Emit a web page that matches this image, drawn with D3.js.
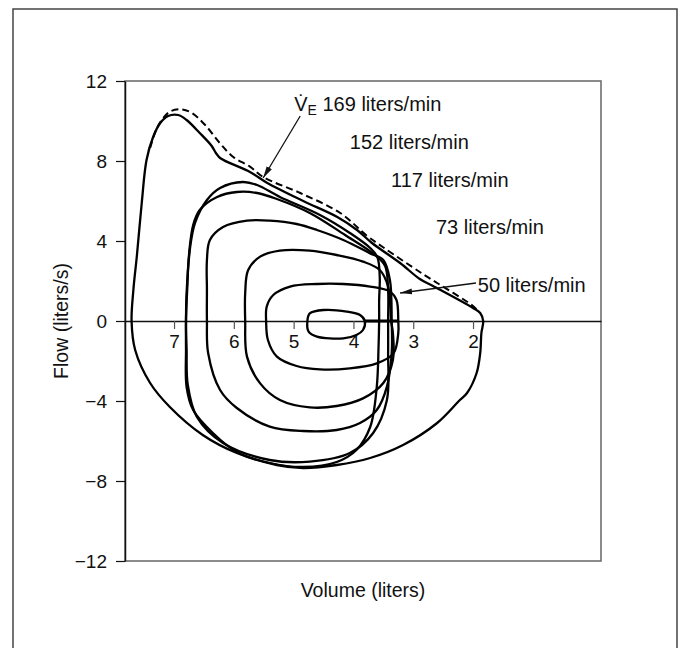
<html>
<head>
    <meta charset="utf-8">
    <title></title>
    <style>
        body { margin: 0; background: #fff; }
        text { font-family: "Liberation Sans", Arial, sans-serif; fill: #111; }
    </style>
</head>
<body>
<script src="https://cdnjs.cloudflare.com/ajax/libs/d3/7.8.5/d3.min.js"></script>
<script>
// flow-volume loops, [volume (liters), flow (liters/s)]
var loopMax = [[7.71,0],[7.68,1.55],[7.62,3.3],[7.54,5.9],[7.46,8.05],[7.35,9.2],[7.23,9.9],[7.1,10.25],
    [6.93,10.3],[6.79,10.05],[6.57,9.4],[6.37,8.75],[6.3,8.4],[6.23,8.15],[5.73,7.45],[5.44,6.9],[4.84,6.0],
    [4.27,5.2],[3.94,4.55],[3.69,3.9],[3.22,2.9],[2.89,2.1],[2.67,1.75],[2.0,0.65],[1.88,0.4],[1.83,0],
    [1.86,-0.6],[1.88,-1.6],[1.94,-2.6],[2.1,-3.6],[2.22,-3.95],[2.6,-5.1],[3.17,-6.2],[3.72,-6.85],
    [4.28,-7.2],[4.84,-7.35],[5.28,-7.2],[5.95,-6.6],[6.52,-5.7],[7.07,-4.3],[7.4,-3.1],[7.65,-1.45]];
var loop169 = [[6.8,0],[6.79,1.4],[6.73,3.7],[6.65,4.9],[6.45,6.05],[6.23,6.65],[5.85,6.95],[5.61,6.8],
    [5.23,6.2],[4.56,5.3],[4.06,4.4],[3.72,3.65],[3.6,3.2],[3.56,2.2],[3.57,1.05],[3.57,0],
    [3.58,-1.3],[3.61,-3.3],[3.72,-5.3],[3.95,-6.45],[4.28,-7.05],[4.84,-7.3],[5.4,-7.1],[5.95,-6.55],
    [6.35,-5.6],[6.68,-4.45],[6.79,-3.3],[6.8,-1.45]];
var loop152 = [[6.8,0],[6.78,1.55],[6.75,3.3],[6.68,4.8],[6.57,5.55],[6.28,6.2],[5.95,6.45],[5.61,6.4],
    [5.28,6.1],[4.73,5.4],[4.14,4.3],[3.64,3.3],[3.47,2.75],[3.42,1.55],[3.42,0],
    [3.42,-1.6],[3.44,-3.95],[3.67,-5.6],[4.06,-6.6],[4.73,-7.03],[5.4,-6.95],[6.18,-6.1],[6.62,-4.78],
    [6.77,-3.2],[6.79,-1.45]];
var loop117 = [[6.45,0],[6.45,1.55],[6.45,3.05],[6.4,4.05],[6.18,4.7],[5.78,5.02],[5.4,5.02],[4.95,4.85],
    [4.61,4.55],[4.17,4.05],[3.72,3.38],[3.5,3.05],[3.39,2.05],[3.36,0],
    [3.36,-1.6],[3.44,-3.28],[3.61,-4.45],[3.89,-5.1],[4.28,-5.45],[4.84,-5.5],[5.4,-5.28],[5.95,-4.35],
    [6.23,-3.45],[6.43,-1.6]];
var loop73 = [[5.81,0],[5.81,1.4],[5.76,2.55],[5.56,3.22],[5.23,3.52],[4.73,3.52],[4.28,3.3],[3.84,2.97],
    [3.56,2.55],[3.42,1.72],[3.37,0],
    [3.34,-0.6],[3.34,-1.95],[3.5,-3.1],[3.84,-3.87],[4.28,-4.25],[4.73,-4.32],[5.23,-3.95],[5.56,-3.12],
    [5.78,-1.78]];
var loop50 = [[5.46,0],[5.45,0.72],[5.34,1.3],[5.06,1.72],[4.61,1.85],[4.17,1.85],[3.72,1.72],[3.39,1.47],
    [3.28,1.05],[3.25,0],
    [3.25,-0.6],[3.33,-1.62],[3.61,-2.12],[4.06,-2.37],[4.56,-2.42],[4.95,-2.25],[5.28,-1.78],[5.43,-0.95]];
var loopRest = [[4.77,0],[4.73,0.38],[4.5,0.55],[4.11,0.47],[3.89,0.3],[3.81,0],
    [3.84,-0.45],[3.95,-0.7],[4.17,-0.87],[4.61,-0.78],[4.75,-0.53]];
// maximal expiratory envelope (dashed)
var envelope = [[7.4,8.65],[7.3,9.55],[7.18,10.15],[7.05,10.5],[6.87,10.58],[6.7,10.4],[6.48,9.8],
    [6.23,8.88],[6.01,8.2],[5.73,7.72],[5.51,7.2],[4.89,6.4],[4.22,5.4],[3.77,4.25],[3.51,3.7],
    [2.89,2.45],[2.6,1.9],[2.0,0.75],[1.9,0.45]];
// end-expiratory segment along the zero line
var endSegment = [[3.81,0],[3.25,0]];

var loops = [loopMax, loop169, loop152, loop117, loop73, loop50, loopRest];

var xTicks = [7, 6, 5, 4, 3, 2];
var yTicks = [12, 8, 4, 0, -4, -8, -12];

// annotation texts: [volume, flow] of the text start
var labelRates = ["152 liters/min", "117 liters/min", "73 liters/min", "50 liters/min"];
var labelPos = [[4.06,8.6], [3.37,6.7], [2.62,4.35], [1.92,1.45]];
var veLabel = "169 liters/min";
var vePos = [4.99, 10.5];
// arrows: [from, to]
var arrows = [[[4.89,10.25],[5.51,7.15]], [[1.95,1.9],[3.22,1.4]]];

var width = 680, height = 648;
var m = {left: 125, right: 601, top: 81, bottom: 561};

var svg = d3.select("body").append("svg")
    .attr("width", width)
    .attr("height", height);

svg.append("defs").append("marker")
    .attr("id", "arr")
    .attr("markerUnits", "userSpaceOnUse")
    .attr("markerWidth", 13).attr("markerHeight", 7)
    .attr("refX", 12).attr("refY", 3)
    .attr("orient", "auto")
    .append("path")
    .attr("d", "M0,0 L12,3 L0,6 Z")
    .attr("fill", "#111");

// outer frame
svg.append("rect")
    .attr("x", 13).attr("y", 9)
    .attr("width", 664).attr("height", 660)
    .attr("fill", "none")
    .attr("stroke", "#444")
    .attr("stroke-width", 1.5);

var x = d3.scaleLinear().domain([7.82, -0.14]).range([m.left, m.right]);
var y = d3.scaleLinear().domain([-12, 12]).range([m.bottom, m.top]);

// plot box
svg.append("rect")
    .attr("x", m.left).attr("y", m.top)
    .attr("width", m.right - m.left).attr("height", m.bottom - m.top)
    .attr("fill", "none")
    .attr("stroke", "#666")
    .attr("stroke-width", 1.5);

var yAxis = svg.append("g")
    .attr("transform", "translate(" + m.left + ",0)")
    .call(d3.axisLeft(y).tickValues(yTicks).tickSize(9).tickPadding(9).tickSizeOuter(0));
yAxis.select(".domain").attr("stroke", "#111").attr("stroke-width", 1.5);
yAxis.selectAll(".tick line").attr("stroke", "#111").attr("stroke-width", 1.2);
yAxis.selectAll("text").style("font-size", "19px")
    .style("font-family", "'Liberation Sans', Arial, sans-serif").attr("fill", "#111");

var xAxis = svg.append("g")
    .attr("transform", "translate(0," + y(0) + ")")
    .call(d3.axisBottom(x).tickValues(xTicks).tickSize(8).tickPadding(6).tickSizeOuter(0));
xAxis.select(".domain").attr("stroke", "#111").attr("stroke-width", 1.3);
xAxis.selectAll(".tick line").attr("stroke", "#555").attr("stroke-width", 1.2);
xAxis.selectAll("text").style("font-size", "19px")
    .style("font-family", "'Liberation Sans', Arial, sans-serif").attr("fill", "#111");

// axis titles
svg.append("text")
    .attr("x", (m.left + m.right) / 2)
    .attr("y", 597)
    .attr("text-anchor", "middle")
    .style("font-size", "19.5px")
    .text("Volume (liters)");

svg.append("text")
    .attr("transform", "translate(68," + y(0) + ") rotate(-90)")
    .attr("text-anchor", "middle")
    .style("font-size", "19.5px")
    .text("Flow (liters/s)");

var loopLine = d3.line()
    .x(function(d) { return x(d[0]); })
    .y(function(d) { return y(d[1]); })
    .curve(d3.curveCatmullRomClosed.alpha(0.5));

var openLine = d3.line()
    .x(function(d) { return x(d[0]); })
    .y(function(d) { return y(d[1]); })
    .curve(d3.curveCatmullRom.alpha(0.5));

svg.selectAll("path.loop")
    .data(loops)
    .enter()
    .append("path")
    .attr("class", "loop")
    .attr("d", loopLine)
    .attr("fill", "none")
    .attr("stroke", "#000")
    .attr("stroke-width", 2.3)
    .attr("stroke-linejoin", "round");

svg.append("path")
    .attr("d", openLine(envelope))
    .attr("fill", "none")
    .attr("stroke", "#000")
    .attr("stroke-width", 2)
    .attr("stroke-dasharray", "7,4");

svg.append("path")
    .attr("d", openLine(endSegment))
    .attr("fill", "none")
    .attr("stroke", "#000")
    .attr("stroke-width", 3.2);

// labels
svg.selectAll("text.rate")
    .data(labelRates)
    .enter()
    .append("text")
    .attr("class", "rate")
    .attr("x", function(d, i) { return x(labelPos[i][0]); })
    .attr("y", function(d, i) { return y(labelPos[i][1]); })
    .style("font-size", "20px")
    .text(function(d) { return d; });

var ve = svg.append("text")
    .attr("x", x(vePos[0]))
    .attr("y", y(vePos[1]))
    .style("font-size", "20px");
ve.append("tspan").text("V\u0307");
ve.append("tspan").attr("dy", 4).style("font-size", "14px").text("E");
ve.append("tspan").attr("dy", -4).text(" " + veLabel);

svg.selectAll("line.arrow")
    .data(arrows)
    .enter()
    .append("line")
    .attr("class", "arrow")
    .attr("x1", function(d) { return x(d[0][0]); })
    .attr("y1", function(d) { return y(d[0][1]); })
    .attr("x2", function(d) { return x(d[1][0]); })
    .attr("y2", function(d) { return y(d[1][1]); })
    .attr("stroke", "#111")
    .attr("stroke-width", 1.3)
    .attr("marker-end", "url(#arr)");
</script>
</body>
</html>
